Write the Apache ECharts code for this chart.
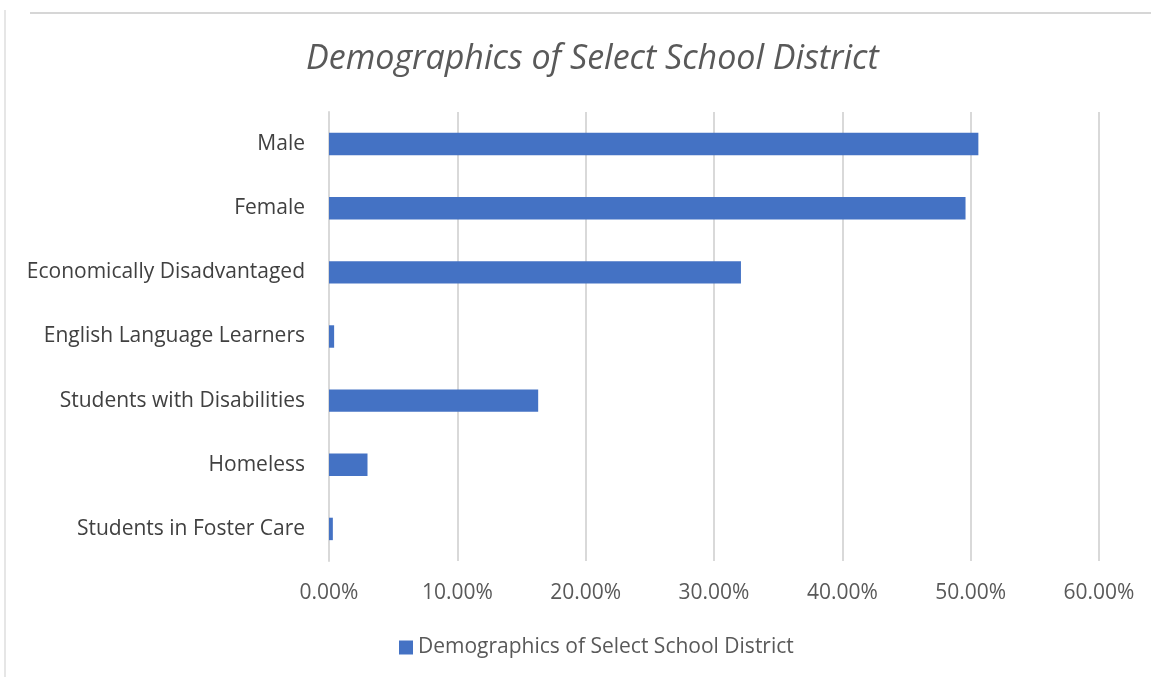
<!DOCTYPE html>
<html>
<head>
<meta charset="utf-8">
<script src="https://cdn.jsdelivr.net/npm/echarts@6/dist/echarts.min.js"></script>
<style>
  html, body { margin: 0; padding: 0; background: #fff; }
  #chart { width: 1151px; height: 677px; }
</style>
</head>
<body>
<div id="chart"></div>
<script>
// categories listed top to bottom, as in the picture
const categories = [
  'Male',
  'Female',
  'Economically Disadvantaged',
  'English Language Learners',
  'Students with Disabilities',
  'Homeless',
  'Students in Foster Care'
];
const shares = [0.506, 0.496, 0.321, 0.004, 0.163, 0.030, 0.003];
const seriesName = 'Demographics of Select School District';

const chart = echarts.init(document.getElementById('chart'));
chart.setOption({
  backgroundColor: '#fff',
  textStyle: { fontFamily: 'Open Sans' },
  title: {
    text: 'Demographics of Select School District',
    left: 301,
    top: 37,
    textStyle: {
      fontFamily: 'Open Sans',
      fontStyle: 'italic',
      fontWeight: 'normal',
      fontSize: 34,
      color: '#595959'
    }
  },
  // faint frame edges seen in the scan
  graphic: [
    { type: 'line', shape: { x1: 30, y1: 13, x2: 1151, y2: 13 }, style: { stroke: '#d6d6d6', lineWidth: 2 } },
    { type: 'line', shape: { x1: 5, y1: 10, x2: 5, y2: 677 }, style: { stroke: '#e6e6e6', lineWidth: 2 } }
  ],
  legend: {
    bottom: 14,
    left: 394,
    itemWidth: 14,
    itemHeight: 14,
    itemGap: 5,
    icon: 'rect',
    textStyle: { fontSize: 21, color: '#595959' },
    data: [seriesName]
  },
  grid: { left: 329, right: 52, top: 112, bottom: 116 },
  xAxis: {
    type: 'value',
    min: 0,
    max: 0.6,
    interval: 0.1,
    axisLine: { show: false },
    axisTick: { show: false },
    splitLine: { lineStyle: { color: '#d9d9d9', width: 2 } },
    axisLabel: {
      fontSize: 21,
      color: '#595959',
      margin: 22,
      formatter: v => (v * 100).toFixed(2) + '%'
    }
  },
  yAxis: {
    type: 'category',
    inverse: true,
    data: categories,
    axisLine: { lineStyle: { color: '#d9d9d9', width: 2 } },
    axisTick: { show: false },
    axisLabel: { fontSize: 21, color: '#404040', margin: 24 }
  },
  series: [{
    name: seriesName,
    type: 'bar',
    data: shares,
    barWidth: '35%',
    itemStyle: { color: '#4472c4' }
  }]
});
</script>
</body>
</html>
